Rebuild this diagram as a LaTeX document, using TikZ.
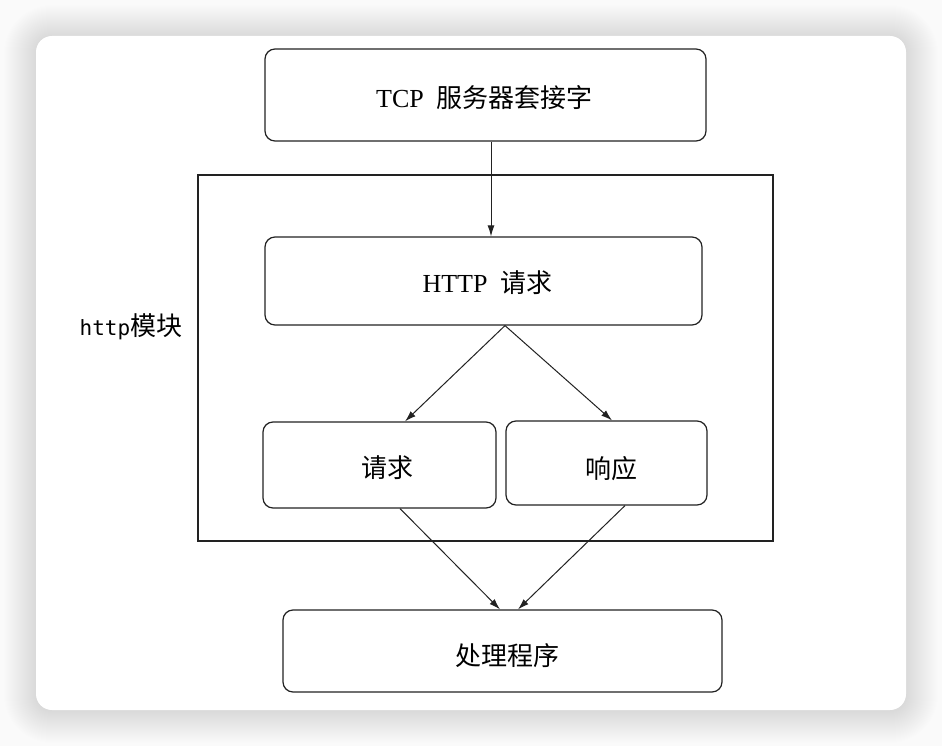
\documentclass[tikz,border=0pt]{standalone}
\usepackage{fontspec}
\setmainfont{Liberation Serif}
\newfontfamily\cjk{Noto Sans CJK SC}
\newfontfamily\monolbl{DejaVu Sans Mono}
\usetikzlibrary{arrows.meta}
\definecolor{linec}{HTML}{222222}
\definecolor{pagebg}{HTML}{FAFAFA}
\newcommand{\lowered}[2]{\raisebox{-#1}[\height][\depth]{#2}}
\begin{document}
\begin{tikzpicture}[x=1pt,y=-1pt,
  box/.style={draw=linec, line width=1.2pt, rounded corners=10pt, inner sep=0pt,
    font=\fontsize{26}{30}\selectfont},
  arr/.style={draw=linec, line width=1pt, -{Latex[length=11pt,width=7pt]}},
  lbl/.style={inner sep=0pt, font=\fontsize{26}{30}\selectfont}
]
\useasboundingbox (0,0) rectangle (942,746);
\fill[pagebg] (0,0) rectangle (942,746);
% shadow of card
\foreach \i in {1,...,32}{
  \fill[black, opacity=0.0045, rounded corners={16+\i}] (36-\i,36-\i+1) rectangle (906+\i,710+\i+1);
}
\fill[white, rounded corners=16pt] (36,36) rectangle (906,710);

% outer module rectangle
\node[draw=linec, line width=1.2pt, minimum width=575pt, minimum height=366pt, inner sep=0pt]
  (module) at (485.5,358) {};
\node[lbl] (modlabel) at (131,327) {{\monolbl\fontsize{21}{26}\selectfont http}{\cjk 模块}};

\node[box, minimum width=441pt, minimum height=92pt] (tcp) at (485.5,95)
  {\lowered{3pt}{\hspace{-2pt}TCP\hspace{0.5em}{\cjk 服务器套接字}}};
\node[box, minimum width=437pt, minimum height=88pt] (http) at (483.5,281)
  {\lowered{2pt}{\hspace{8pt}HTTP\hspace{0.5em}{\cjk 请求}}};
\node[box, minimum width=233pt, minimum height=86pt] (req) at (379.5,465)
  {\lowered{3pt}{\hspace{16pt}{\cjk 请求}}};
\node[box, minimum width=201pt, minimum height=84pt] (resp) at (606.5,463)
  {\lowered{6pt}{\hspace{10pt}{\cjk 响应}}};
\node[box, minimum width=439pt, minimum height=82pt] (handler) at (502.5,651)
  {\lowered{5pt}{\hspace{10pt}{\cjk 处理程序}}};

\draw[arr] ([xshift=5.5pt]tcp.south) -- ([xshift=7.5pt]http.north);
\draw[arr] ([xshift=21.5pt]http.south) -- ([xshift=25.5pt]req.north);
\draw[arr] ([xshift=21.5pt]http.south) -- ([xshift=5.5pt]resp.north);
\draw[arr] ([xshift=20.5pt]req.south) -- ([xshift=-2.5pt]handler.north);
\draw[arr] ([xshift=18.5pt]resp.south) -- ([xshift=15.5pt]handler.north);
\end{tikzpicture}
\end{document}
